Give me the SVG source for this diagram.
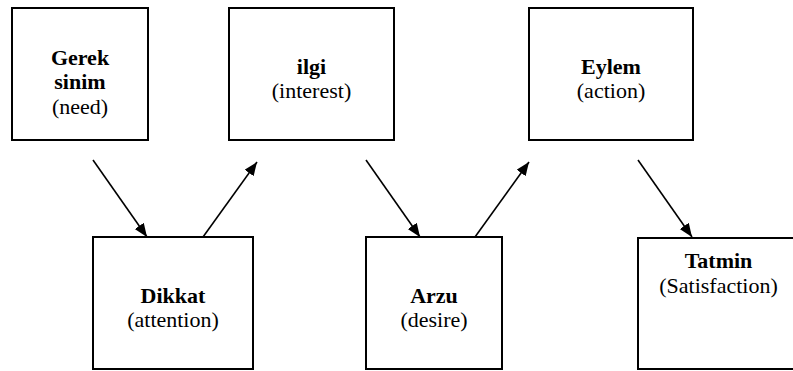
<svg xmlns="http://www.w3.org/2000/svg" width="793" height="371" viewBox="0 0 793 371">
<style>
.box{fill:#fff;stroke:#000;stroke-width:2}
.t{font-family:"Liberation Serif","Times New Roman",serif;font-size:22px;text-anchor:middle;fill:#000}
.b{font-weight:bold}
.c{stroke:#000;stroke-width:1.6;fill:none;marker-end:url(#ah)}
</style>
<defs>
<marker id="ah" markerUnits="userSpaceOnUse" markerWidth="14" markerHeight="12" refX="13.5" refY="5.5" orient="auto">
<path d="M0,0 L13.5,5.5 L0,11 z" fill="#000"/>
</marker>
</defs>
<rect width="793" height="371" fill="#fff"/>
<g id="need">
<rect class="box" x="12" y="8" width="136" height="132"/>
<text class="t b" x="80" y="65">Gerek</text>
<text class="t b" x="80" y="89">sinim</text>
<text class="t" x="80" y="114">(need)</text>
</g>
<g id="interest">
<rect class="box" x="229" y="8" width="165" height="132"/>
<text class="t b" x="311.5" y="74">ilgi</text>
<text class="t" x="311.5" y="98">(interest)</text>
</g>
<g id="action">
<rect class="box" x="529" y="8" width="164" height="132"/>
<text class="t b" x="611" y="74">Eylem</text>
<text class="t" x="611" y="98">(action)</text>
</g>
<g id="attention">
<rect class="box" x="93" y="237" width="160" height="132"/>
<text class="t b" x="173" y="303">Dikkat</text>
<text class="t" x="173" y="327">(attention)</text>
</g>
<g id="desire">
<rect class="box" x="366" y="237" width="136" height="132"/>
<text class="t b" x="434" y="303">Arzu</text>
<text class="t" x="434" y="327">(desire)</text>
</g>
<g id="satisfaction">
<rect class="box" x="638" y="238" width="162" height="131"/>
<text class="t b" x="718.5" y="268">Tatmin</text>
<text class="t" x="718.5" y="293">(Satisfaction)</text>
</g>
<g id="connectors">
<line class="c" x1="93" y1="160" x2="147" y2="237"/>
<line class="c" x1="203" y1="237" x2="257" y2="162"/>
<line class="c" x1="366" y1="160" x2="420" y2="237"/>
<line class="c" x1="475" y1="237" x2="529" y2="162"/>
<line class="c" x1="638" y1="160" x2="692" y2="237"/>
</g>
</svg>
